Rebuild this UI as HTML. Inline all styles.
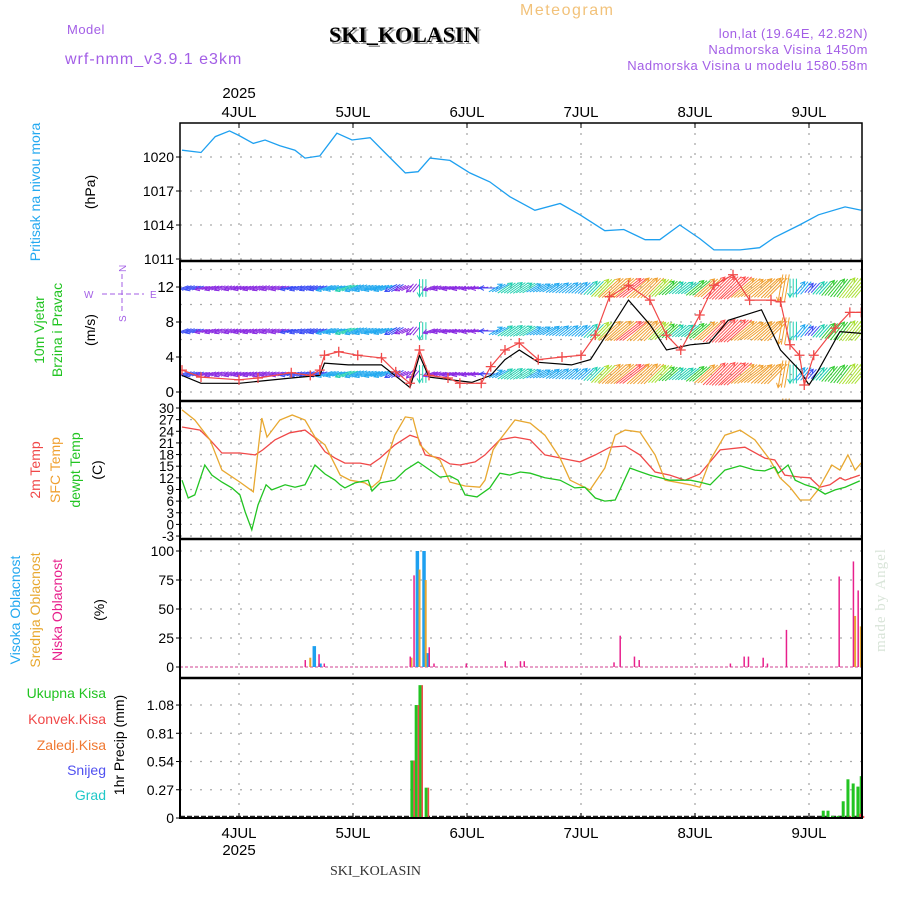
<!DOCTYPE html>
<html><head><meta charset="utf-8"><style>
html,body{margin:0;padding:0;background:#fff;width:900px;height:900px;overflow:hidden}
svg{display:block}
text{font-family:"Liberation Sans",sans-serif}
</style></head><body>
<svg id="chart" width="900" height="900" viewBox="0 0 900 900" xmlns="http://www.w3.org/2000/svg">
<defs>
<clipPath id="cp"><rect x="180" y="123" width="682" height="138"/></clipPath>
<clipPath id="cw"><rect x="180" y="262" width="682" height="138"/></clipPath>
<clipPath id="ct"><rect x="180" y="402" width="682" height="136"/></clipPath>
</defs>
<text x="520" y="15" font-size="16" fill="#f2c27a" letter-spacing="1.5">Meteogram</text>
<text x="67" y="34" font-size="13" fill="#a35ee6" letter-spacing="0.5">Model</text>
<text x="65" y="64" font-size="16" fill="#a35ee6" letter-spacing="1">wrf-nmm_v3.9.1 e3km</text>
<text x="331" y="44" font-size="22" font-weight="bold" fill="#999" style="font-family:'Liberation Serif',serif">SKI_KOLASIN</text>
<text x="329" y="42" font-size="22" font-weight="bold" fill="#000" style="font-family:'Liberation Serif',serif">SKI_KOLASIN</text>
<text x="868" y="38" font-size="13" fill="#a35ee6" text-anchor="end" letter-spacing="0.5">lon,lat (19.64E, 42.82N)</text>
<text x="868" y="54" font-size="13" fill="#a35ee6" text-anchor="end" letter-spacing="0.5">Nadmorska Visina 1450m</text>
<text x="868" y="70" font-size="13" fill="#a35ee6" text-anchor="end" letter-spacing="0.5">Nadmorska Visina u modelu 1580.58m</text>

<text x="40" y="192" font-size="14" fill="#22a8f0" text-anchor="middle" transform="rotate(-90 40 192)">Pritisak na nivou mora</text>
<text x="95" y="192" font-size="14" fill="#000" text-anchor="middle" transform="rotate(-90 95 192)">(hPa)</text>
<text x="44" y="330" font-size="14" fill="#22c422" text-anchor="middle" transform="rotate(-90 44 330)">10m Vjetar</text>
<text x="62" y="330" font-size="14" fill="#22c422" text-anchor="middle" transform="rotate(-90 62 330)">Brzina i Pravac</text>
<text x="95" y="330" font-size="14" fill="#000" text-anchor="middle" transform="rotate(-90 95 330)">(m/s)</text>
<g fill="#a35ee6" font-size="10" stroke="none">
<text x="84" y="298">W</text><text x="150" y="298">E</text>
<text x="126" y="272" transform="rotate(-90 126 272)">N</text>
<text x="126" y="322" transform="rotate(-90 126 322)">S</text>
<line x1="102" y1="294" x2="144" y2="294" stroke="#a35ee6" stroke-dasharray="5,3"/>
<line x1="122" y1="274" x2="122" y2="314" stroke="#a35ee6" stroke-dasharray="5,3"/>
</g>
<text x="40" y="470" font-size="14" fill="#f04848" text-anchor="middle" transform="rotate(-90 40 470)">2m Temp</text>
<text x="60" y="470" font-size="14" fill="#f0a030" text-anchor="middle" transform="rotate(-90 60 470)">SFC Temp</text>
<text x="80" y="470" font-size="14" fill="#22c422" text-anchor="middle" transform="rotate(-90 80 470)">dewpt Temp</text>
<text x="102" y="470" font-size="14" fill="#000" text-anchor="middle" transform="rotate(-90 102 470)">(C)</text>
<text x="20" y="610" font-size="14" fill="#22a8f0" text-anchor="middle" transform="rotate(-90 20 610)">Visoka Oblacnost</text>
<text x="40" y="610" font-size="14" fill="#e8a830" text-anchor="middle" transform="rotate(-90 40 610)">Srednja Oblacnost</text>
<text x="62" y="610" font-size="14" fill="#e8208c" text-anchor="middle" transform="rotate(-90 62 610)">Niska Oblacnost</text>
<text x="104" y="610" font-size="14" fill="#000" text-anchor="middle" transform="rotate(-90 104 610)">(%)</text>
<text x="106" y="698" font-size="14" fill="#22c422" text-anchor="end">Ukupna Kisa</text>
<text x="106" y="724" font-size="14" fill="#f04848" text-anchor="end">Konvek.Kisa</text>
<text x="106" y="750" font-size="14" fill="#f07830" text-anchor="end">Zaledj.Kisa</text>
<text x="106" y="775" font-size="14" fill="#5050f0" text-anchor="end">Snijeg</text>
<text x="106" y="800" font-size="14" fill="#20c8c8" text-anchor="end">Grad</text>
<text x="124" y="745" font-size="14" fill="#000" text-anchor="middle" transform="rotate(-90 124 745)">1hr Precip (mm)</text>
<text x="885" y="600" font-size="15" fill="#d8e4d8" text-anchor="middle" transform="rotate(-90 885 600)" style="font-family:'Liberation Serif',serif" letter-spacing="1">made by Angel</text>
<text x="330" y="875" font-size="14" fill="#333" style="font-family:'Liberation Serif',serif">SKI_KOLASIN</text>
<g id="g"></g>
</svg>
<script>
const dayLabels = ["4JUL","5JUL","6JUL","7JUL","8JUL","9JUL"];
const dayHours = [24,48,72,96,120,144];
const presTicks = [1011,1014,1017,1020];
const windTicks = [0,4,8,12];
const tempTicks = [30,27,24,21,18,15,12,9,6,3,0,-3];
const cloudTicks = [0,25,50,75,100];
const precipTicks = [0,0.27,0.54,0.81,1.08];

const presHours = [12,16,19,22,24,27,29.5,32.6,35.8,37.9,41,44.6,47.8,51.6,54.7,59,61.7,64.2,68.4,72.6,76.8,81,86.3,91.6,95.8,101,105,109.5,112.6,116.8,121,124,129.5,133.6,136.7,142,146,151.6,155];
const presVals = [1020.6,1020.4,1021.8,1022.3,1021.9,1021.2,1021.5,1021.0,1020.6,1019.9,1020.1,1022.1,1021.5,1021.7,1020.4,1018.6,1018.7,1019.9,1019.7,1018.6,1017.8,1016.5,1015.3,1015.9,1014.9,1013.5,1013.6,1012.7,1012.7,1014.0,1012.8,1011.8,1011.8,1012.0,1012.9,1014.0,1014.9,1015.6,1015.3];

const spdHours = [12,16,24,28,35,39,41,42,45,49,54,57,60,62,64,68,70.5,75,77,80,83,87,92,96,99,102,106,110.5,114,117,121,124,128,131.5,136,138,140,142,143,145,149.5,152.6,155];
const spdVals = [2.5,1.7,1.4,1.6,2.2,1.9,2.5,4.2,4.6,4.2,3.9,2.3,1.0,4.8,1.9,1.6,1.0,1.0,2.9,4.8,5.6,3.7,4.0,4.2,6.5,10.9,12.2,10.5,6.5,4.8,8.8,12.2,13.4,10.5,10.5,10.3,5.4,4.2,0.8,4.2,7.3,9.1,9.1];
const gustHours = [12,16,24,35,41,42,47,54,58,60,62,64,73,77,80,83,87,94,98,102,106,110.5,114,119,123,127,134,136,138,142,144,146,150.5,155];
const gustVals = [1.9,1.0,1.0,1.6,1.9,3.3,3.1,3.1,1.4,0.5,4.2,1.7,1.1,1.9,3.7,4.8,3.4,3.1,3.7,7.1,10.5,7.7,4.8,5.4,5.6,8.2,9.4,7.1,4.8,2.5,0.8,2.5,6.9,6.7];

const arrowDir = [70,72,75,70,68,70,72,70,68,70,72,75,70,68,70,72,75,70,68,70,72,70,60,65,40,0,70,75,75,75,75,80,90,240,235,235,238,240,240,235,232,230,228,225,225,228,230,232,228,225,225,228,230,232,230,228,225,225,228,230,232,228,225,10,0,220,222,222,220,218,218,220];
const arrowSpd = [2.5,2.0,1.7,1.6,1.5,1.4,1.4,1.5,1.6,1.7,1.9,2.1,2.2,2.0,2.0,4.2,4.4,4.5,4.3,4.2,4.1,3.9,2.8,1.7,1.0,4.8,1.9,1.7,1.6,1.1,1.0,1.0,2.2,3.5,4.8,5.4,5.2,4.0,3.8,3.9,4.0,4.1,4.2,5.5,8.5,10.9,11.8,12.2,11.5,10.6,8.5,6.5,5.2,5.5,7.8,10.0,12.2,13.0,13.4,11.5,10.5,10.5,10.5,10.3,5.4,4.2,2.0,4.5,6.0,7.6,9.1,9.1];

const t2Hours = [12,15.8,17.9,20.4,24.2,27.4,29,31.6,34.7,37.9,40,42.1,44.2,46.3,49.5,51.6,53.7,56.8,60,61.7,63.2,66.3,68.4,70.5,73.7,75.8,78.9,82.1,85.3,88.4,90.5,93.7,95.8,99,102.1,105.3,108.4,111.6,114.7,117.9,121,125.3,130.5,134.7,136.8,138.9,142.1,144.2,146.3,148.4,150.5,151.6,154.7];
const t2Vals = [25.1,24.3,21.8,18.4,18.4,17.9,19.2,21.8,23.6,24.3,22.3,18.7,17.1,15.8,15.8,15.3,17.1,20.5,23.0,22.3,17.9,17.1,15.6,15.3,16.1,17.9,21.8,22.5,21.8,17.9,17.4,16.6,16.1,17.9,19.9,20.2,17.9,13.5,12.7,11.4,13.0,19.2,19.9,17.1,16.6,12.7,12.2,12.0,9.6,10.2,12.0,11.4,12.7];
const sfcHours = [12,14.7,17.9,20.4,24.2,27,28.8,29.9,32.6,35.2,37.9,40,42.1,45.3,47.4,50.5,52,53.7,56.8,59,60.6,62.1,64.2,66.3,68.4,71.6,74.7,75.8,77.5,78.9,82.1,85.3,88.4,91.6,93.7,97.9,101,103.2,105.3,108.4,111.6,113.7,119,121,123.2,126.3,129.5,132.6,135.8,137.9,140,142.1,144.2,145.9,148.8,150.5,152.2,153.7,155.2];
const sfcVals = [29.5,26.9,21.8,14.0,10.9,8.4,27.4,22.5,26.9,28.2,26.9,22.5,20.5,12.7,11.4,10.7,9.6,11.4,23.0,27.7,27.4,20.5,17.9,16.6,10.9,9.9,9.6,11.4,19.2,21.8,26.9,26.1,23.0,17.1,11.4,8.9,14.5,23.0,24.3,23.8,17.9,11.4,10.2,9.6,16.6,23.0,24.3,21.8,16.6,12.0,9.6,6.3,6.3,8.9,15.3,14.0,17.9,14.0,16.1];
const dewHours = [12,13.3,14.7,16.8,18.3,20.4,22.5,24.2,25.3,26.7,28,29.7,30.9,33.7,35.8,37.9,40,42.1,44.2,45.3,46.3,48.4,51.2,52,53.7,56.8,59,61.7,64.2,66.3,68.4,70.1,71.6,74.1,76.8,78.9,81,83.2,85.3,88.4,91.6,94.7,96.8,99,101,103.2,106.3,110.5,114.7,119,121,123.2,126.3,129.5,132.6,134.7,136.8,137.5,139.6,141.1,143.2,145.3,147.4,149.5,151.6,154.7];
const dewVals = [11.4,6.8,7.6,15.3,12.7,10.9,9.4,7.6,3.2,-1.4,5.0,10.2,8.9,10.2,9.6,10.2,15.3,13.0,11.4,10.2,9.4,10.7,11.4,8.6,10.7,11.4,14.0,16.1,14.0,12.2,12.5,11.4,7.6,7.1,9.4,13.2,12.7,13.5,13.2,12.0,11.4,9.4,9.6,6.8,6.0,6.3,14.5,12.7,11.4,11.4,10.9,10.2,14.0,15.1,14.0,13.8,14.8,13.2,15.3,11.4,10.2,9.4,7.8,8.9,9.6,11.2];

const highHours = [39.8,41,61.5,62.9,63.6];
const highVals = [18,3,100,100,12];
const midHours = [38.9,60.2,61.9,63.2,153.6,154.8];
const midVals = [8,8,84,75,44,35];
const lowHours = [37.9,40.8,41.9,60,60.8,64,65,71.8,80,83.2,84,102.9,104.2,107.2,108.2,127.4,130.3,131.2,134.3,135.2,139.2,150.3,153.3,154.3];
const lowVals = [6,11,3,9,79,17,3,3,5,5,5,4,27,9,6,3,9,9,8,3,32,78,91,66];

const precipHours = [60.4,61.3,62.1,63.4,147,148,149,150.1,151.2,152.2,153.3,154.3,155];
const totalVals = [0.55,1.08,1.27,0.29,0.07,0.07,0.02,0.02,0.16,0.37,0.33,0.30,0.40];
const convVals = [0.55,1.08,1.27,0.29,0,0,0,0,0.01,0.02,0.01,0.04,0.02];

const X = h => 239 + (h-24)*4.75;
const YP = p => 157 - (p-1020)*11.333;
const YW = v => 392 - v*8.75;
const YT = t => 408 + (30-t)*3.88;
const YC = c => 667 - c*1.16;
const YR = r => 818 - r*104.6;
const NS = "http://www.w3.org/2000/svg";
const G = document.getElementById('g');
function mk(tag, at, parent){const e=document.createElementNS(NS,tag);for(const k in at)e.setAttribute(k,at[k]);(parent||G).appendChild(e);return e;}
function txt(x,y,s,at){const e=mk('text',Object.assign({x:x,y:y,'font-size':14},at||{}));e.textContent=s;return e;}
function pathD(hs,vs,Y){return hs.map((h,i)=>(i?'L':'M')+X(h).toFixed(1)+','+Y(vs[i]).toFixed(1)).join('');}

const panels=[[123,261],[261,401],[401,539],[539,678],[678,818]];
const grid = mk('g',{stroke:'#aaa','stroke-width':1.3,'stroke-dasharray':'2,8'});


dayHours.forEach(h=>{const l=mk('line',{x1:X(h),x2:X(h),y1:123,y2:818},grid);

});
function hgrid(vals,Y){vals.forEach(v=>{const l=mk('line',{x1:180,x2:862,y1:Y(v),y2:Y(v)},grid);

});}
hgrid(presTicks,YP);hgrid([0,2,4,6,8,10,12,14],YW);hgrid(tempTicks,YT);hgrid([25,50,75,100],YC);hgrid(precipTicks.slice(1),YR);

function ylabels(vals,Y,fmt,name,fs){vals.forEach(v=>{const t=txt(174,Y(v)+5,fmt(v),{'text-anchor':'end','font-size':fs||14,fill:'#000'});


const l=mk('line',{x1:176,x2:180,y1:Y(v),y2:Y(v),stroke:'#000'});

});}
ylabels(presTicks,YP,v=>String(v),'pressure-tick');
ylabels(windTicks,YW,v=>String(v),'wind-tick',15);
ylabels(tempTicks,YT,v=>String(v),'temp-tick',13.5);
ylabels(cloudTicks,YC,v=>String(v),'cloud-tick');
ylabels(precipTicks,YR,v=>v===0?'0':v.toFixed(2),'precip-tick');

dayLabels.forEach((d,i)=>{const x=X(dayHours[i]);
const a=txt(x,117,d,{'text-anchor':'middle','font-size':15,fill:'#000'});


const b=txt(x,838,d,{'text-anchor':'middle','font-size':15,fill:'#000'});


const t1=mk('line',{x1:x,x2:x,y1:123,y2:128,stroke:'#000'});


const t2=mk('line',{x1:x,x2:x,y1:813,y2:818,stroke:'#000'});

});
const y1=txt(X(24),98,'2025',{'text-anchor':'middle','font-size':15});


const y2=txt(X(24),855,'2025',{'text-anchor':'middle','font-size':15});



const pl=mk('path',{d:pathD(presHours,presVals,YP),fill:'none',stroke:'#1ea0f0','stroke-width':1.3,'clip-path':'url(#cp)'});



function wcol(v){return v<2?'#8a2be2':v<3?'#3a4cf5':v<4.5?'#20a8f0':v<6?'#20d0b0':v<8?'#30cc30':v<10?'#a8e030':v<12?'#f0a030':'#ff5050';}
const wg=mk('g',{'clip-path':'url(#cw)','stroke-width':1,fill:'none'});


[288,331,374,412].forEach(row=>{
 for(let i=0;i<arrowDir.length;i++){
  const h=12+2*i, x=X(h), to=(arrowDir[i]+180)*Math.PI/180, L=9+1.8*arrowSpd[i];
  const dx=Math.sin(to)*L, dy=-Math.cos(to)*L, c=wcol(arrowSpd[i]);
  const x0=x-dx/2, y0=row-dy/2, x1=x+dx/2, y1=row+dy/2;
  const a=Math.atan2(dy,dx);
  const d=`M${x0},${y0}L${x1},${y1}M${x1-5*Math.cos(a-0.5)},${y1-5*Math.sin(a-0.5)}L${x1},${y1}L${x1-5*Math.cos(a+0.5)},${y1-5*Math.sin(a+0.5)}`;
  const p=mk('path',{d:d,stroke:c},wg);
  
  
  [3.2,6.4].forEach(o=>{const hx=x+o;
  const p2=mk('path',{d:`M${hx-dx/2},${row-dy/2}L${hx+dx/2},${row+dy/2}`,stroke:c},wg);
  
  });
 }});
const gl=mk('path',{d:pathD(gustHours,gustVals,YW),fill:'none',stroke:'#000','stroke-width':1.2,'clip-path':'url(#cw)'});


const sl=mk('path',{d:pathD(spdHours,spdVals,YW),fill:'none',stroke:'#f04848','stroke-width':1.2,'clip-path':'url(#cw)'});


spdHours.forEach((h,i)=>{const x=X(h),y=YW(spdVals[i]);
const m=mk('path',{d:`M${x-5},${y}L${x+5},${y}M${x},${y-5}L${x},${y+5}`,stroke:'#f04848','stroke-width':1.3,'clip-path':'url(#cw)'});

});

[[t2Hours,t2Vals,'#f04848','temp-2m-line'],[sfcHours,sfcVals,'#e8a830','temp-sfc-line'],[dewHours,dewVals,'#22c422','dewpoint-line']].forEach(s=>{
const p=mk('path',{d:pathD(s[0],s[1],YT),fill:'none',stroke:s[2],'stroke-width':1.3,'clip-path':'url(#ct)'});

});

const cb=mk('line',{x1:180,x2:862,y1:667,y2:667,stroke:'#e8a0c8','stroke-width':2,'stroke-dasharray':'3,2'});


function bars(hs,vs,Y,col,w,off,name){hs.forEach((h,i)=>{if(vs[i]<=0)return;const y=Y(vs[i]);
const r=mk('rect',{x:X(h)+off,y:y,width:w,height:Y(0)-y,fill:col});

});}
bars(highHours,highVals,YC,'#1ea0f0',3.5,-1.5,'high-cloud-bar');
bars(midHours,midVals,YC,'#e8a830',2,-0.5,'mid-cloud-bar');
bars(lowHours,lowVals,YC,'#e8208c',1.5,-0.5,'low-cloud-bar');

const pb=mk('line',{x1:180,x2:862,y1:817,y2:817,stroke:'#222','stroke-width':2.5,'stroke-dasharray':'5,2'});


bars(precipHours,totalVals,YR,'#22c422',3,-1.5,'total-precip-bar');
bars(precipHours,convVals,YR,'#f04848',1.5,1.5,'convective-precip-bar');

panels.forEach((p,i)=>{const r=mk('rect',{x:180,y:p[0],width:682,height:p[1]-p[0],fill:'none',stroke:'#000','stroke-width':i===0?1.5:2});

});
[261,401,539,678].forEach(y=>{const l=mk('line',{x1:180,x2:862,y1:y,y2:y,stroke:'#000','stroke-width':2.5});

});
</script>
</body></html>
